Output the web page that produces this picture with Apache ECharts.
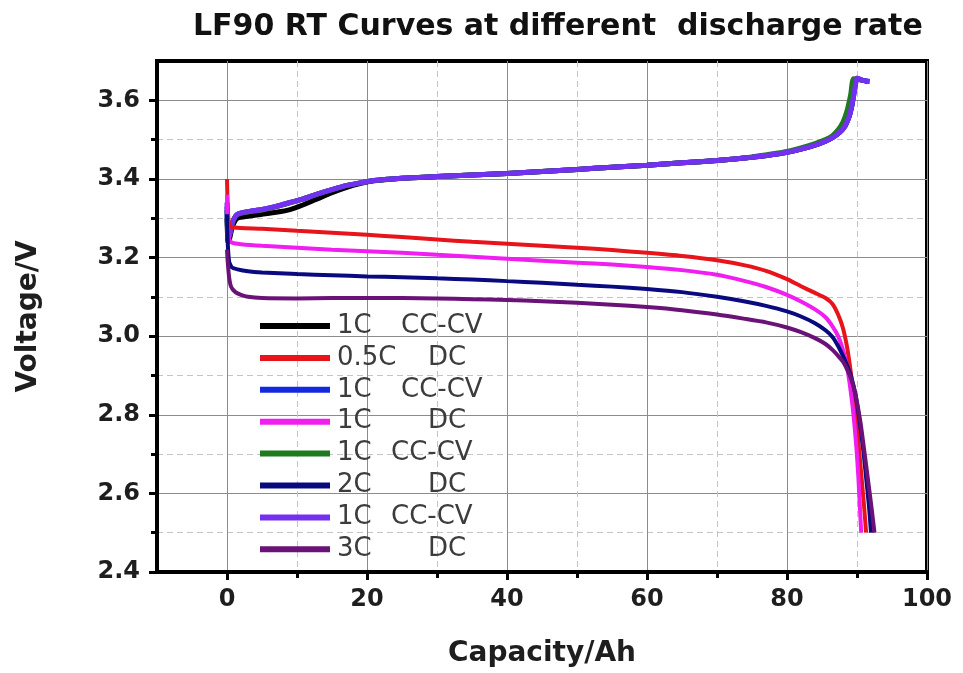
<!DOCTYPE html>
<html>
<head>
<meta charset="utf-8">
<title>LF90 RT Curves</title>
<script src="https://cdn.jsdelivr.net/npm/echarts@6.0.0/dist/echarts.min.js"></script>
<style>
	html, body { margin: 0; padding: 0; background: #fff; }
	#main { width: 963px; height: 673px; }
</style>
</head>
<body>
<div id="main"></div>
<script>
	// 图例文字（倍率 + 方式）
	var legendRates = ['1C', '0.5C', '1C', '1C', '1C', '2C', '1C', '3C'];
	var legendModes = ['CC-CV', 'DC', 'CC-CV', 'DC', 'CC-CV', 'DC', 'CC-CV', 'DC'];

	// 刻度
	var xMajorTicks = [0, 20, 40, 60, 80, 100];
	var xMinorTicks = [10, 30, 50, 70, 90];
	var yMajorTicks = [2.4, 2.6, 2.8, 3.0, 3.2, 3.4, 3.6];
	var yMinorTicks = [2.5, 2.7, 2.9, 3.1, 3.3, 3.5];

	// 曲线数据 [容量Ah, 电压V]
	var charge1 = [[0, 3.30], [0.15, 3.24], [0.4, 3.25], [0.8, 3.28], [1.5, 3.30], [3, 3.305], [5, 3.31], [7, 3.315], [9, 3.322], [11, 3.335], [13, 3.35], [15, 3.365], [17, 3.378], [19, 3.388], [21, 3.395], [25, 3.402], [30, 3.406], [35, 3.41], [40, 3.414], [45, 3.419], [50, 3.424], [55, 3.43], [60, 3.435], [65, 3.441], [70, 3.447], [75, 3.455], [78, 3.462], [80, 3.468], [82, 3.476], [84, 3.486], [85.5, 3.496], [86.5, 3.505], [87.5, 3.518], [88.3, 3.535], [88.9, 3.56], [89.3, 3.59], [89.6, 3.63], [89.9, 3.655], [90.5, 3.652], [91.5, 3.648]];
	var charge2 = [[0, 3.33], [0.15, 3.25], [0.4, 3.26], [0.8, 3.29], [1.5, 3.31], [3, 3.317], [5, 3.322], [7, 3.33], [9, 3.34], [11, 3.35], [13, 3.362], [15, 3.373], [17, 3.383], [19, 3.39], [21, 3.396], [25, 3.402], [30, 3.406], [35, 3.41], [40, 3.414], [45, 3.419], [50, 3.424], [55, 3.43], [60, 3.435], [65, 3.441], [70, 3.447], [75, 3.455], [78, 3.462], [80, 3.468], [82, 3.476], [84, 3.486], [85.5, 3.496], [86.5, 3.505], [87.5, 3.518], [88.3, 3.535], [88.9, 3.56], [89.3, 3.59], [89.7, 3.63], [90, 3.656], [91, 3.65], [91.8, 3.648]];
	var charge3 = [[0, 3.32], [0.15, 3.25], [0.4, 3.26], [0.8, 3.29], [1.5, 3.31], [3, 3.316], [5, 3.321], [7, 3.329], [9, 3.339], [11, 3.35], [13, 3.362], [15, 3.373], [17, 3.383], [19, 3.39], [21, 3.396], [25, 3.402], [30, 3.406], [35, 3.41], [40, 3.414], [45, 3.419], [50, 3.424], [55, 3.43], [60, 3.435], [65, 3.441], [70, 3.447], [75, 3.456], [78, 3.464], [80, 3.47], [82, 3.479], [84, 3.49], [85.5, 3.5], [86.5, 3.51], [87.3, 3.525], [88, 3.545], [88.6, 3.575], [89.1, 3.615], [89.5, 3.655], [90.5, 3.652]];
	var charge4 = [[0, 3.34], [0.15, 3.25], [0.4, 3.26], [0.8, 3.29], [1.5, 3.31], [3, 3.317], [5, 3.322], [7, 3.33], [9, 3.34], [11, 3.35], [13, 3.362], [15, 3.373], [17, 3.383], [19, 3.39], [21, 3.396], [25, 3.402], [30, 3.406], [35, 3.41], [40, 3.414], [45, 3.419], [50, 3.424], [55, 3.43], [60, 3.435], [65, 3.441], [70, 3.447], [75, 3.455], [78, 3.462], [80, 3.468], [82, 3.476], [84, 3.486], [85.5, 3.496], [86.5, 3.505], [87.5, 3.518], [88.3, 3.535], [88.9, 3.56], [89.3, 3.59], [89.7, 3.63], [90, 3.656], [91, 3.65], [91.8, 3.648]];
	var discharge05C = [[0, 3.40], [0.1, 3.33], [0.25, 3.29], [0.6, 3.278], [2, 3.275], [5, 3.273], [10, 3.268], [15, 3.263], [20, 3.258], [25, 3.252], [30, 3.246], [35, 3.24], [40, 3.235], [45, 3.23], [50, 3.225], [55, 3.219], [60, 3.212], [65, 3.204], [70, 3.193], [74, 3.18], [77, 3.166], [80, 3.145], [82, 3.127], [84, 3.11], [85.5, 3.097], [86.5, 3.082], [87.3, 3.055], [88, 3.02], [88.6, 2.97], [89.1, 2.91], [89.6, 2.84], [90.1, 2.75], [90.6, 2.65], [91, 2.57], [91.3, 2.5]];
	var discharge1C = [[0, 3.36], [0.1, 3.29], [0.3, 3.245], [0.8, 3.237], [2, 3.234], [5, 3.23], [10, 3.225], [15, 3.22], [20, 3.216], [25, 3.212], [30, 3.207], [35, 3.202], [40, 3.197], [45, 3.192], [50, 3.187], [55, 3.182], [60, 3.176], [65, 3.168], [70, 3.156], [74, 3.14], [77, 3.125], [80, 3.105], [82, 3.088], [84, 3.068], [85.5, 3.048], [86.5, 3.025], [87.3, 3.0], [88, 2.965], [88.6, 2.92], [89.1, 2.86], [89.5, 2.8], [89.9, 2.72], [90.2, 2.64], [90.4, 2.57], [90.6, 2.5]];
	var discharge2C = [[0, 3.31], [0.1, 3.24], [0.3, 3.19], [0.7, 3.175], [1.5, 3.17], [3, 3.165], [5, 3.162], [10, 3.158], [15, 3.155], [20, 3.152], [25, 3.15], [30, 3.147], [35, 3.144], [40, 3.14], [45, 3.136], [50, 3.131], [55, 3.126], [60, 3.12], [65, 3.112], [70, 3.1], [74, 3.088], [77, 3.077], [80, 3.063], [82, 3.05], [84, 3.033], [85.5, 3.015], [86.5, 2.998], [87.3, 2.975], [88, 2.95], [88.6, 2.925], [89.2, 2.895], [89.8, 2.85], [90.4, 2.78], [90.9, 2.71], [91.3, 2.64], [91.7, 2.57], [92, 2.5]];
	var discharge3C = [[0, 3.22], [0.1, 3.19], [0.3, 3.15], [0.6, 3.125], [1.2, 3.112], [2, 3.105], [3, 3.1], [5, 3.097], [10, 3.096], [15, 3.097], [20, 3.097], [25, 3.097], [30, 3.096], [35, 3.094], [40, 3.092], [45, 3.089], [50, 3.085], [55, 3.08], [60, 3.074], [65, 3.066], [70, 3.055], [74, 3.044], [77, 3.035], [80, 3.022], [82, 3.01], [84, 2.995], [85.5, 2.98], [86.5, 2.965], [87.3, 2.95], [88, 2.935], [88.6, 2.915], [89.2, 2.89], [89.8, 2.85], [90.5, 2.78], [91.1, 2.7], [91.6, 2.63], [92.1, 2.56], [92.5, 2.5]];

	init();

	function init() {
		var chart = echarts.init(document.getElementById('main'));
		var font = 'DejaVu Sans';

		// 按图例顺序
		var curves = [charge1, discharge05C, charge2, discharge1C, charge3, discharge2C, charge4, discharge3C];
		var colors = ['#000000', '#e8141c', '#1428e0', '#f01ef0', '#1f7a1f', '#0a0a80', '#7430f0', '#6a1278'];
		var widths = [5, 4, 5, 4, 5, 4, 5, 4];
		// 先画充电曲线，再画放电曲线
		var drawOrder = [0, 2, 4, 6, 1, 3, 5, 7];

		var names = curves.map(function (c, i) { return 's' + i; });
		var series = drawOrder.map(function (i) {
			return {
				name: names[i],
				type: 'line',
				data: curves[i],
				color: colors[i],
				showSymbol: false,
				symbol: 'none',
				smooth: 0.2,
				lineStyle: { width: widths[i], color: colors[i] }
			};
		});

		var legendFont = { fontSize: 26, fontFamily: font, color: '#3c3c3c', lineHeight: 22 };
		var legendRich = {
			cc1: Object.assign({ width: 64, padding: [0, 0, 0, 2] }, legendFont),
			cc2: Object.assign({ width: 54, padding: [0, 0, 0, 2] }, legendFont),
			dc: Object.assign({ width: 91, padding: [0, 0, 0, 2] }, legendFont),
			m: Object.assign({}, legendFont)
		};
		var rateStyle = ['cc1', 'dc', 'cc1', 'dc', 'cc2', 'dc', 'cc2', 'dc'];

		var axisText = { fontSize: 24, fontWeight: 'bold', fontFamily: font, color: '#1e1e1e' };
		var nameText = { fontSize: 28, fontWeight: 'bold', fontFamily: font, color: '#1e1e1e' };

		var option = {
			animation: false,
			backgroundColor: '#fff',
			title: {
				text: 'LF90 RT Curves at different  discharge rate',
				left: 188,
				top: 7,
				textStyle: { fontSize: 30, fontWeight: 'bold', fontFamily: font, color: '#111' }
			},
			grid: {
				left: 157, right: 36, top: 61, bottom: 96,
				show: true, borderColor: '#000', borderWidth: 4
			},
			legend: {
				data: names,
				orient: 'vertical',
				left: 255,
				top: 308,
				icon: 'rect',
				itemWidth: 70,
				itemHeight: 6,
				itemGap: 5.9,
				textStyle: { fontSize: 26, fontFamily: font, color: '#3c3c3c', lineHeight: 22, rich: legendRich },
				formatter: function (name) {
					var i = names.indexOf(name);
					return '{' + rateStyle[i] + '|' + legendRates[i] + '}{m|' + legendModes[i] + '}';
				}
			},
			xAxis: [
				{
					type: 'value', min: -10, max: 100, position: 'bottom',
					name: 'Capacity/Ah', nameLocation: 'middle', nameGap: 68,
					nameTextStyle: nameText,
					axisLine: { show: true, onZero: false, lineStyle: { color: '#000', width: 4 } },
					axisTick: { show: true, customValues: xMajorTicks, length: 8, lineStyle: { color: '#000', width: 3 } },
					axisLabel: Object.assign({ customValues: xMajorTicks, margin: 16 }, axisText),
					splitLine: { show: true, lineStyle: { color: '#8c8c8c', width: 1 } }
				},
				{
					type: 'value', min: -10, max: 100, position: 'bottom',
					axisLine: { show: false, onZero: false },
					axisTick: { show: true, customValues: xMinorTicks, length: 6, lineStyle: { color: '#000', width: 3 } },
					axisLabel: { show: false },
					splitLine: { show: true, lineStyle: { color: '#c4c4c4', width: 1, type: [6, 4] } }
				}
			],
			yAxis: [
				{
					type: 'value', min: 2.4, max: 3.7, position: 'left',
					name: 'Voltage/V', nameLocation: 'middle', nameGap: 114,
					nameTextStyle: nameText,
					axisLine: { show: true, onZero: false, lineStyle: { color: '#000', width: 4 } },
					axisTick: { show: true, customValues: yMajorTicks, length: 8, lineStyle: { color: '#000', width: 3 } },
					axisLabel: Object.assign({
						customValues: yMajorTicks, margin: 17,
						formatter: function (v) { return v.toFixed(1); }
					}, axisText),
					splitLine: { show: true, lineStyle: { color: '#8c8c8c', width: 1 } }
				},
				{
					type: 'value', min: 2.4, max: 3.7, position: 'left',
					axisLine: { show: false, onZero: false },
					axisTick: { show: true, customValues: yMinorTicks, length: 6, lineStyle: { color: '#000', width: 3 } },
					axisLabel: { show: false },
					splitLine: { show: true, lineStyle: { color: '#c4c4c4', width: 1, type: [6, 4] } }
				}
			],
			series: series
		};
		chart.setOption(option);
	}
</script>
</body>
</html>
